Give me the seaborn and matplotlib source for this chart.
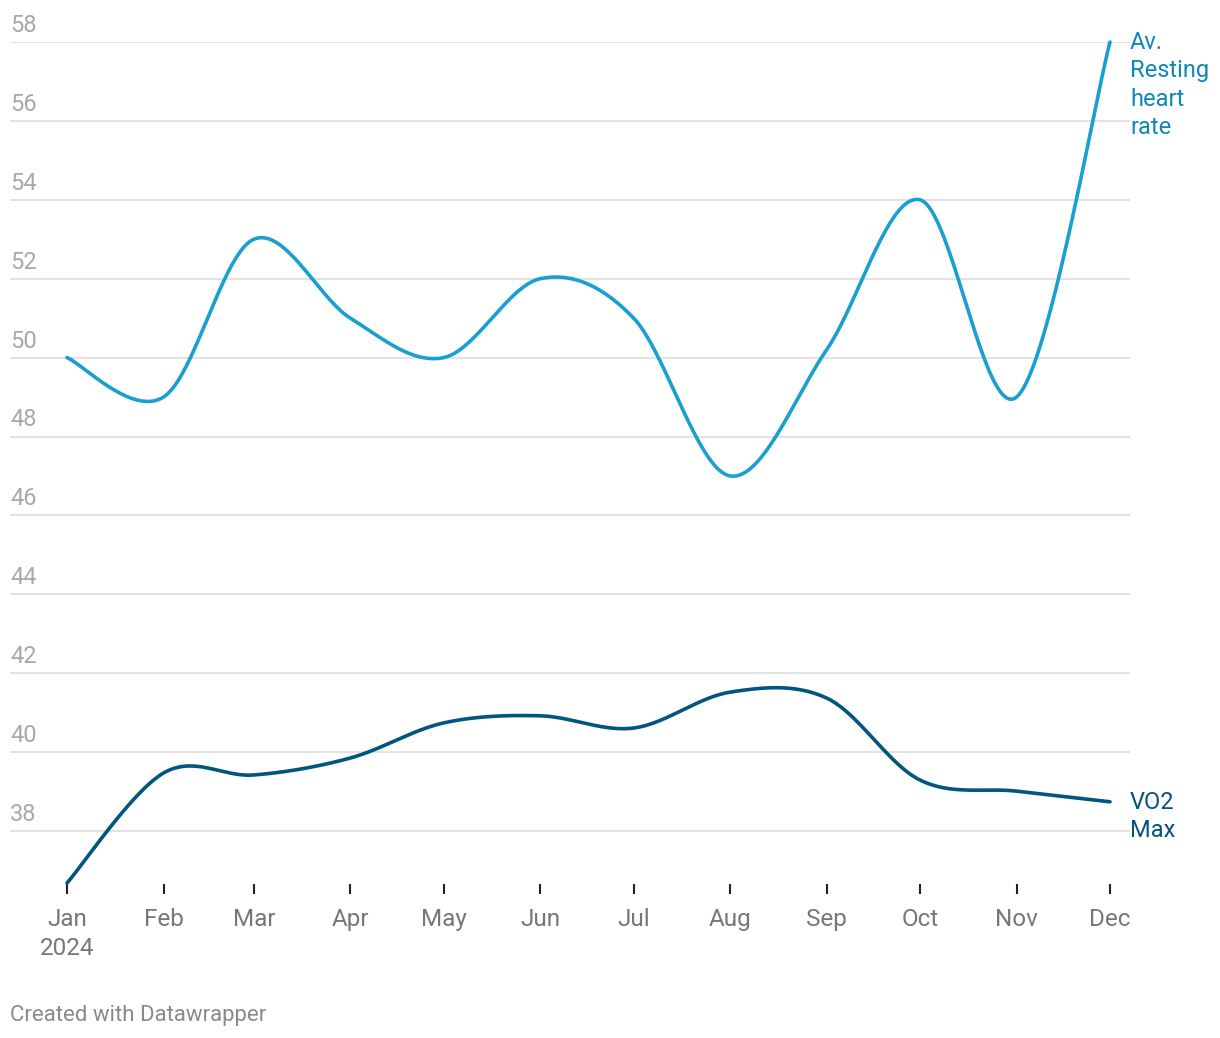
import numpy as np
import pandas as pd
import matplotlib
matplotlib.use("Agg")
import matplotlib.pyplot as plt
import matplotlib.dates as mdates
import matplotlib.transforms as mtransforms
import seaborn as sns

# ---- data ----
months = ["Jan", "Feb", "Mar", "Apr", "May", "Jun", "Jul", "Aug", "Sep", "Oct", "Nov", "Dec"]
dates = pd.date_range("2024-01-01", periods=12, freq="MS")
resting_hr = [50.0, 49.0, 53.0, 51.0, 50.0, 52.0, 51.0, 47.0, 50.2, 54.0, 49.0, 58.0]
vo2_max = [36.68, 39.47, 39.42, 39.85, 40.74, 40.92, 40.61, 41.52, 41.37, 39.29, 39.01, 38.74]
y_ticks = [38, 40, 42, 44, 46, 48, 50, 52, 54, 56, 58]
series_names = ["Av.\nResting\nheart\nrate", "VO2\nMax"]

HR_COLOR = "#1aa0cf"
HR_TEXT = "#0e88b5"
VO2_COLOR = "#02557d"
VO2_TEXT = "#04537c"


def cardinal_smooth(x, y, n=40):
    """Catmull-Rom (cardinal, tension 0) parametric curve through the points, for display."""
    P = np.column_stack([x, y]).astype(float)
    k = len(P)
    M = np.zeros_like(P)
    for i in range(k):
        a = P[max(i - 1, 0)]
        b = P[min(i + 1, k - 1)]
        M[i] = (b - a) / 2.0
    out = []
    t = np.linspace(0, 1, n, endpoint=False)
    h00 = 2 * t**3 - 3 * t**2 + 1
    h10 = t**3 - 2 * t**2 + t
    h01 = -2 * t**3 + 3 * t**2
    h11 = t**3 - t**2
    for i in range(k - 1):
        seg = (np.outer(h00, P[i]) + np.outer(h10, M[i]) +
               np.outer(h01, P[i + 1]) + np.outer(h11, M[i + 1]))
        out.append(seg)
    out.append(P[-1:])
    out = np.vstack(out)
    return out[:, 0], out[:, 1]


sns.set_theme(style="white")
plt.rcParams["font.family"] = ["Roboto", "DejaVu Sans"]

W, H = 1220, 1038
fig = plt.figure(figsize=(W / 100, H / 100), dpi=100)

x_num = mdates.date2num(dates.to_pydatetime())
px_per_day = (1110 - 67) / (x_num[-1] - x_num[0])
x_lo = x_num[0] - (67 - 10) / px_per_day
x_hi = x_num[-1] + (1130 - 1110) / px_per_day

px_per_unit = (831 - 42) / 20.0
ax_bottom_px = 884
y_lo = 38 - (ax_bottom_px - 831) / px_per_unit
y_hi = 58

ax = fig.add_axes([10 / W, 1 - ax_bottom_px / H, 1120 / W, (ax_bottom_px - 42) / H])
ax.set_xlim(x_lo, x_hi)
ax.set_ylim(y_lo, y_hi)

rows = []
for name, vals in zip(series_names, [resting_hr, vo2_max]):
    sx, sy = cardinal_smooth(x_num, vals)
    rows.append(pd.DataFrame({"x": sx, "y": sy, "series": name}))
df = pd.concat(rows, ignore_index=True)

sns.lineplot(data=df, x="x", y="y", hue="series", sort=False, estimator=None,
             palette={series_names[0]: HR_COLOR, series_names[1]: VO2_COLOR},
             linewidth=2.6, legend=False, ax=ax, zorder=3)
for ln in ax.lines:
    ln.set_clip_on(False)
    ln.set_solid_capstyle("round")

# grid
for v in y_ticks:
    ax.axhline(v, color="#e2e2e2", linewidth=1.4, zorder=1)
    tr = mtransforms.offset_copy(ax.get_yaxis_transform(), fig=fig, x=0, y=10, units="dots")
    ax.text(0, v, str(v), transform=tr, ha="left", va="baseline",
            fontsize=17, color="#a8a8a8")

for s in ax.spines.values():
    s.set_visible(False)
ax.set_yticks([])
ax.set_xticks(x_num)
ax.set_xticklabels([m + ("\n2024" if i == 0 else "") for i, m in enumerate(months)])
ax.tick_params(axis="x", bottom=True, direction="out", length=7, width=1.5,
               color="#222222", pad=10, labelsize=17.5, labelcolor="#777777")
for lab in ax.get_xticklabels():
    lab.set_linespacing(1.35)
ax.set_xlabel("")
ax.set_ylabel("")

# series labels (first line aligned with the last point)
for name, vals, col in [(series_names[0], resting_hr, HR_TEXT), (series_names[1], vo2_max, VO2_TEXT)]:
    ax.annotate(name, xy=(x_num[-1], vals[-1]), xytext=(20, 11),
                textcoords="offset pixels", ha="left", va="top", fontsize=17,
                color=col, linespacing=1.3, annotation_clip=False)

fig.text(10 / W, 1 - 1015 / H, "Created with Datawrapper", ha="left", va="center",
         fontsize=16, color="#8a8a8a")

fig.savefig("out.png", dpi=100, facecolor="white")
